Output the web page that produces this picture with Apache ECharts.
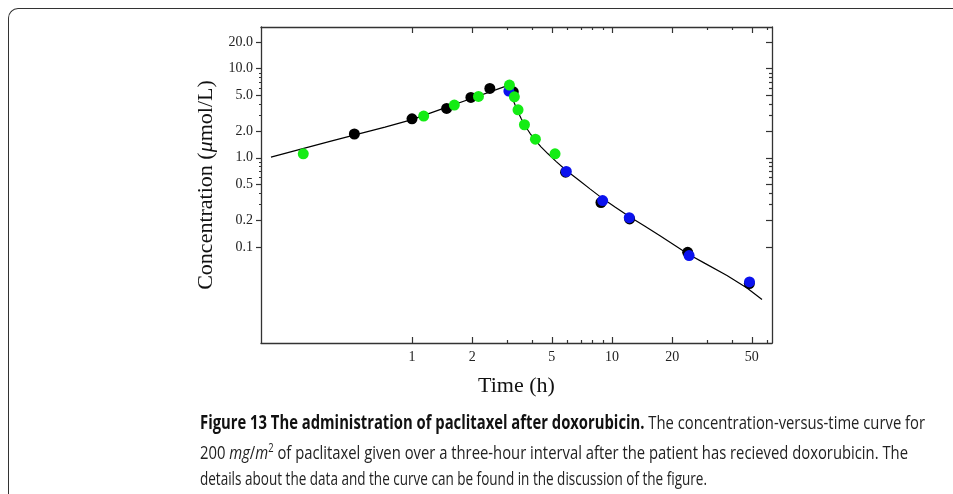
<!DOCTYPE html>
<html><head><meta charset="utf-8">
<script src="https://cdn.jsdelivr.net/npm/echarts@6/dist/echarts.min.js"></script>
<style>
html,body{margin:0;padding:0;background:#fff;width:953px;height:494px;overflow:hidden;position:relative}
#frame{position:absolute;left:8px;top:8px;width:980px;height:520px;border-top:1.5px solid #333;border-left:1.5px solid #333;border-top-left-radius:10px;box-sizing:border-box}
#chart{position:absolute;left:0;top:0;width:953px;height:494px}
.cap{position:absolute;left:200px;white-space:nowrap;font-family:"Open Sans",sans-serif;font-size:19px;line-height:19px;color:#222;transform-origin:0 0}
.cap b{font-weight:700;color:#111}
.cap sup{font-size:12px;line-height:0;vertical-align:7px}
</style></head>
<body>
<div id="frame"></div>
<div id="chart"></div>
<div class="cap" data-w="725" style="top:413px"><b>Figure 13 The administration of paclitaxel after doxorubicin.</b> The concentration-versus-time curve for</div>
<div class="cap" data-w="708" style="top:443px">200 <i>mg</i>/<i>m</i><sup>2</sup> of paclitaxel given over a three-hour interval after the patient has recieved doxorubicin. The</div>
<div class="cap" data-w="507" style="top:469px">details about the data and the curve can be found in the discussion of the figure.</div>
<script>
// ---- data ----
const curveTime = [0.1972,0.2754,0.389,0.5129,0.7328,1.0,1.38,1.95,2.455,2.976,3.09,3.199,3.35,3.508,3.673,3.89,4.121,4.416,4.786,5.248,5.888,6.839,7.762,9.016,10.35,12.3,14.62,17.38,20.65,23.99,29.17,37.58,47.32,56.23];
const curveConc = [1.018,1.243,1.528,1.799,2.213,2.687,3.471,4.579,5.5,6.41,5.375,4.484,3.462,2.778,2.288,1.885,1.593,1.329,1.109,0.913,0.724,0.559,0.448,0.346,0.281,0.217,0.17,0.133,0.1039,0.0834,0.0653,0.0478,0.0346,0.0257];
const blackTime = [0.515,1.0,1.49,1.97,2.45,3.21,5.86,8.81,12.25,23.9,48.6];
const blackConc = [1.85,2.74,3.58,4.76,6.01,5.51,0.69,0.315,0.206,0.087,0.0387];
const blueTime = [3.05,5.91,8.98,12.2,24.3,48.7];
const blueConc = [5.62,0.702,0.331,0.213,0.0798,0.0404];
const greenTime = [0.286,1.144,1.628,2.15,3.07,3.25,3.39,3.65,4.14,5.19];
const greenConc = [1.11,2.94,3.91,4.89,6.56,4.84,3.46,2.35,1.62,1.11];
const xMajorTicks = [1,2,5,10,20,50];
const xMinorTicks = [3,4,6,7,8,9,30,40,60];
const yMajorTicks = [0.1,0.2,0.5,1,2,5,10,20];
const yMinorTicks = [0.3,0.4,0.6,0.7,0.8,0.9,3,4,6,7,8,9];
const xTitle = 'Time (h)';

// ---- chart ----
const X_MIN = 0.1758, X_MAX = 63.1, Y_MIN = 0.00834, Y_MAX = 29.4;
const AX = '#333';
const serif = '"Liberation Serif","Times New Roman",serif';
const zip = (a, b) => a.map((v, i) => [v, b[i]]);

function xAx(pos, ticks, len, labels, line) {
  return {
    type: 'log', logBase: 10, position: pos, min: X_MIN, max: X_MAX,
    axisLine: {show: line, lineStyle: {color: AX, width: 1.3}},
    axisTick: {show: true, inside: true, length: len, customValues: ticks, lineStyle: {color: AX, width: 1.2}},
    axisLabel: labels ? {show: true, customValues: ticks, margin: 7, fontFamily: serif, fontSize: 14, color: '#222',
      formatter: v => String(+(+v).toPrecision(6))} : {show: false},
    splitLine: {show: false}, minorTick: {show: false}, minorSplitLine: {show: false}
  };
}
function yAx(pos, ticks, len, inside, labels, line) {
  return {
    type: 'log', logBase: 10, position: pos, min: Y_MIN, max: Y_MAX,
    axisLine: {show: line, lineStyle: {color: AX, width: 1.3}},
    axisTick: {show: true, inside: inside, length: len, customValues: ticks, lineStyle: {color: AX, width: 1.2}},
    axisLabel: labels ? {show: true, customValues: ticks, margin: 8, fontFamily: serif, fontSize: 14, color: '#222',
      formatter: v => (+v).toFixed(1)} : {show: false},
    splitLine: {show: false}, minorTick: {show: false}, minorSplitLine: {show: false}
  };
}

const xa0 = xAx('bottom', xMajorTicks, 6, true, true);
xa0.name = xTitle; xa0.nameLocation = 'middle'; xa0.nameGap = 32;
xa0.nameTextStyle = {fontFamily: serif, fontSize: 22, color: '#111'};
const ya0 = yAx('left', yMajorTicks, 5, false, true, true);
ya0.name = '{n|Concentration (}{i|μ}{n|mol/L)}'; ya0.nameLocation = 'middle'; ya0.nameGap = 44;
ya0.nameTextStyle = {rich: {n: {fontFamily: serif, fontSize: 22, color: '#111'}, i: {fontFamily: serif, fontSize: 22, fontStyle: 'italic', color: '#111'}}};

const chart = echarts.init(document.getElementById('chart'), null, {renderer: 'canvas'});
chart.setOption({
  animation: false,
  backgroundColor: 'transparent',
  grid: {left: 261, top: 27, width: 511, height: 316, containLabel: false},
  xAxis: [xa0, xAx('bottom', xMinorTicks, 3, false, false), xAx('top', xMajorTicks, 6, false, true), xAx('top', xMinorTicks, 3, false, false)],
  yAxis: [ya0, yAx('left', yMinorTicks, 2, false, false, false), yAx('right', yMajorTicks, 6, true, false, true), yAx('right', yMinorTicks, 3, true, false, false)],
  series: [
    {type: 'line', data: zip(curveTime, curveConc), showSymbol: false, symbol: 'none', smooth: false,
      lineStyle: {color: '#000', width: 1.2}, z: 1},
    {type: 'scatter', data: zip(blackTime, blackConc), symbolSize: 11, itemStyle: {color: '#000', opacity: 1}, z: 2},
    {type: 'scatter', data: zip(blueTime, blueConc), symbolSize: 11, itemStyle: {color: '#0b12ee', opacity: 1}, z: 3},
    {type: 'scatter', data: zip(greenTime, greenConc), symbolSize: 11, itemStyle: {color: '#14ec14', opacity: 1}, z: 4}
  ]
});

// fit caption lines to the reference widths
document.querySelectorAll('.cap').forEach(el => {
  const w = el.getBoundingClientRect().width;
  const target = +el.dataset.w;
  if (w > 0) el.style.transform = 'scaleX(' + (target / w) + ')';
});
</script>
</body></html>
